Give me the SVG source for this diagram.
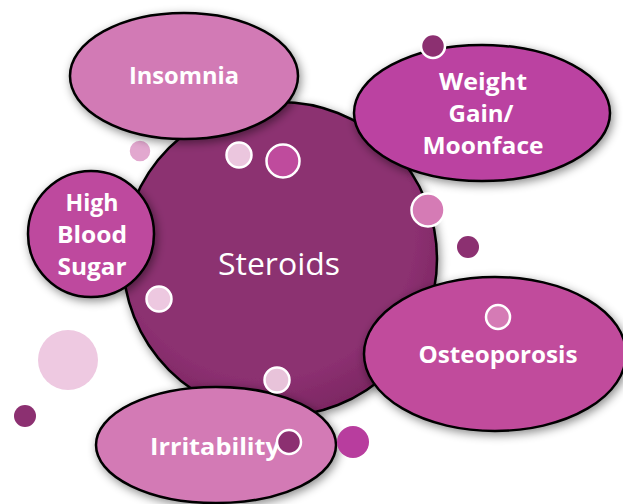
<svg xmlns="http://www.w3.org/2000/svg" width="623" height="504" viewBox="0 0 623 504">
<defs>
<filter id="sh" x="-20%" y="-20%" width="140%" height="140%">
<feDropShadow dx="2" dy="3" stdDeviation="5" flood-color="#000" flood-opacity="0.45"/>
</filter>
<radialGradient id="mainGrad" cx="0.45" cy="0.4" r="0.6">
<stop offset="0.8" stop-color="#8C3071"/>
<stop offset="1" stop-color="#7E2864"/>
</radialGradient>
</defs>
<style>
.node{stroke:#000;stroke-width:2.5;filter:url(#sh)}
.lbl{font-family:"Open Sans","Liberation Sans",Arial,sans-serif;font-weight:bold;font-size:24px;fill:#fff;text-anchor:middle}
.dot{stroke:#fff;stroke-width:2.5}
</style>
<rect width="623" height="504" fill="#fff"/>
<g id="connectors"/>
<g id="steroids">
<circle class="node" cx="280" cy="259" r="157" fill="url(#mainGrad)"/>
<text x="279" y="275" font-family="'Open Sans','Liberation Sans',Arial,sans-serif" font-size="31" fill="#fff" text-anchor="middle" textLength="122" lengthAdjust="spacingAndGlyphs">Steroids</text>
</g>
<g id="dot-a"><circle class="dot" cx="140" cy="151" r="11.5" fill="#E2A8CF"/></g>
<g id="insomnia">
<ellipse class="node" cx="184" cy="76" rx="114" ry="63" fill="#D27AB5"/>
<text class="lbl" x="184" y="84" textLength="110" lengthAdjust="spacingAndGlyphs">Insomnia</text>
</g>
<g id="high-blood-sugar">
<circle class="node" cx="91" cy="234" r="63" fill="#BE4A9E"/>
<text class="lbl" x="92" y="211" textLength="53" lengthAdjust="spacingAndGlyphs">High</text>
<text class="lbl" x="92" y="243" textLength="70" lengthAdjust="spacingAndGlyphs">Blood</text>
<text class="lbl" x="92" y="275" textLength="69" lengthAdjust="spacingAndGlyphs">Sugar</text>
</g>
<g id="weight-gain">
<ellipse class="node" cx="482" cy="113" rx="128" ry="68" fill="#BB43A1"/>
<text class="lbl" x="483" y="90" textLength="88" lengthAdjust="spacingAndGlyphs">Weight</text>
<text class="lbl" x="481" y="122" textLength="65" lengthAdjust="spacingAndGlyphs">Gain/</text>
<text class="lbl" x="483" y="154" textLength="121" lengthAdjust="spacingAndGlyphs">Moonface</text>
</g>
<g id="osteoporosis">
<ellipse class="node" cx="495" cy="354" rx="131" ry="77" fill="#C14C9C"/>
<text class="lbl" x="498" y="363" textLength="159" lengthAdjust="spacingAndGlyphs">Osteoporosis</text>
</g>
<g id="irritability">
<ellipse class="node" cx="216" cy="445" rx="120" ry="58" fill="#D37AB5"/>
<text class="lbl" x="215" y="455" textLength="130" lengthAdjust="spacingAndGlyphs">Irritability</text>
</g>
<g id="dots">
<circle class="dot" cx="239" cy="155" r="12.5" fill="#EBC6DE"/>
<circle class="dot" cx="283" cy="161" r="16.5" fill="#BF4B9D"/>
<circle class="dot" cx="433" cy="46" r="12" fill="#8C3071"/>
<circle class="dot" cx="428" cy="210" r="16.5" fill="#D57BB5"/>
<circle cx="468" cy="247" r="11" fill="#8C3071"/>
<circle class="dot" cx="159" cy="299" r="12.5" fill="#EDC8E0"/>
<circle class="dot" cx="277" cy="380" r="12.5" fill="#E8C3DA"/>
<circle cx="68" cy="360" r="30" fill="#EEC9E1"/>
<circle cx="25" cy="416" r="11" fill="#8C3071"/>
<circle class="dot" cx="498" cy="317" r="12" fill="#D57BB5"/>
<circle class="dot" cx="289" cy="442" r="12" fill="#8C3071"/>
<circle cx="353" cy="442" r="16" fill="#B83D9E"/>
</g>
</svg>
